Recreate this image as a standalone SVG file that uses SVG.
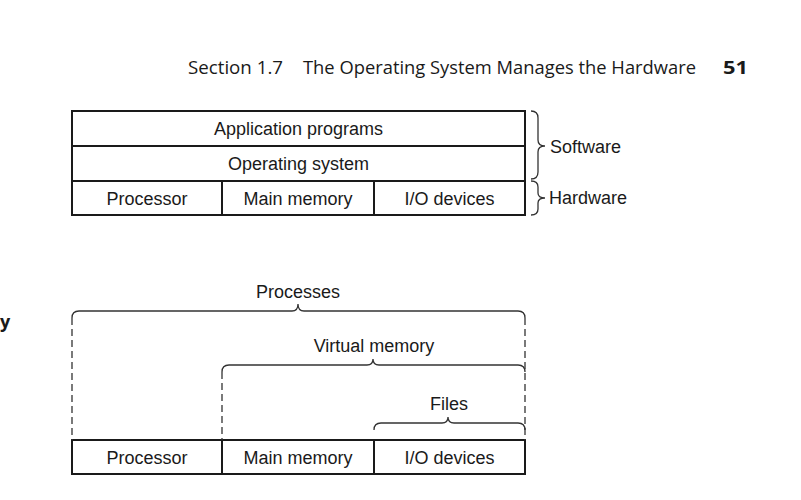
<svg xmlns="http://www.w3.org/2000/svg" width="801" height="500" viewBox="0 0 801 500">
<style>
.box{fill:#fff;stroke:#1a1a1a;stroke-width:2}
.t{font-family:"Liberation Sans",Arial,sans-serif;font-size:18px;fill:#1a1a1a;text-anchor:middle}
.tl{font-family:"Liberation Sans",Arial,sans-serif;font-size:18px;fill:#1a1a1a}
.h{font-family:"Open Sans","Noto Sans",sans-serif;font-size:18px;fill:#1a1a1a}
.br{fill:none;stroke:#333;stroke-width:1.3}
.ds{fill:none;stroke:#333;stroke-width:1.3;stroke-dasharray:7 4}
</style>
<rect width="801" height="500" fill="#fff"/>
<g id="header">
<text class="h" x="188" y="74" textLength="95" lengthAdjust="spacingAndGlyphs">Section 1.7</text>
<text class="h" x="303" y="74" textLength="393" lengthAdjust="spacingAndGlyphs">The Operating System Manages the Hardware</text>
<text class="h" x="723" y="74" font-weight="bold" font-size="20" textLength="25" lengthAdjust="spacingAndGlyphs">51</text>
<text class="h" x="0" y="328" font-weight="bold" font-size="20">y</text>
</g>
<g id="app"><rect class="box" x="72" y="111" width="453" height="35"/><text class="t" x="298.5" y="135">Application programs</text></g>
<g id="os"><rect class="box" x="72" y="146" width="453" height="35"/><text class="t" x="298.5" y="170">Operating system</text></g>
<g id="proc1"><rect class="box" x="72" y="181" width="150" height="34"/><text class="t" x="147" y="205">Processor</text></g>
<g id="mem1"><rect class="box" x="222" y="181" width="152" height="34"/><text class="t" x="298" y="205">Main memory</text></g>
<g id="io1"><rect class="box" x="374" y="181" width="151" height="34"/><text class="t" x="449.5" y="205">I/O devices</text></g>
<g id="software"><path class="br" d="M531,111 Q538,111 538,118 L538,140 Q538,146 545,146 Q538,146 538,152 L538,172 Q538,179 531,179"/><text class="tl" x="550" y="153">Software</text></g>
<g id="hardware"><path class="br" d="M531,181 Q538,181 538,187 L538,193 Q538,198 545,198 Q538,198 538,203 L538,209 Q538,215 531,215"/><text class="tl" x="549" y="204">Hardware</text></g>
<g id="proc2"><rect class="box" x="72" y="440" width="150" height="34"/><text class="t" x="147" y="464">Processor</text></g>
<g id="mem2"><rect class="box" x="222" y="440" width="152" height="34"/><text class="t" x="298" y="464">Main memory</text></g>
<g id="io2"><rect class="box" x="374" y="440" width="151" height="34"/><text class="t" x="449.5" y="464">I/O devices</text></g>
<g id="connectors">
<path class="br" d="M72,318 Q72,311 79,311 L292,311 Q298,311 298,304 Q298,311 304,311 L518,311 Q525,311 525,318"/>
<path class="ds" d="M72,318 L72,440 M525,318 L525,440"/>
<path class="br" d="M222,372 Q222,365 229,365 L367,365 Q373,365 373,359 Q373,365 379,365 L518,365 Q525,365 525,372"/>
<path class="ds" d="M222,372 L222,440"/>
<path class="br" d="M374,430 Q374,423 381,423 L442,423 Q448,423 448,417 Q448,423 454,423 L518,423 Q525,423 525,430"/>
</g>
<g id="labels">
<text class="t" x="298" y="298">Processes</text>
<text class="t" x="374" y="352">Virtual memory</text>
<text class="t" x="449" y="410">Files</text>
</g>
</svg>
